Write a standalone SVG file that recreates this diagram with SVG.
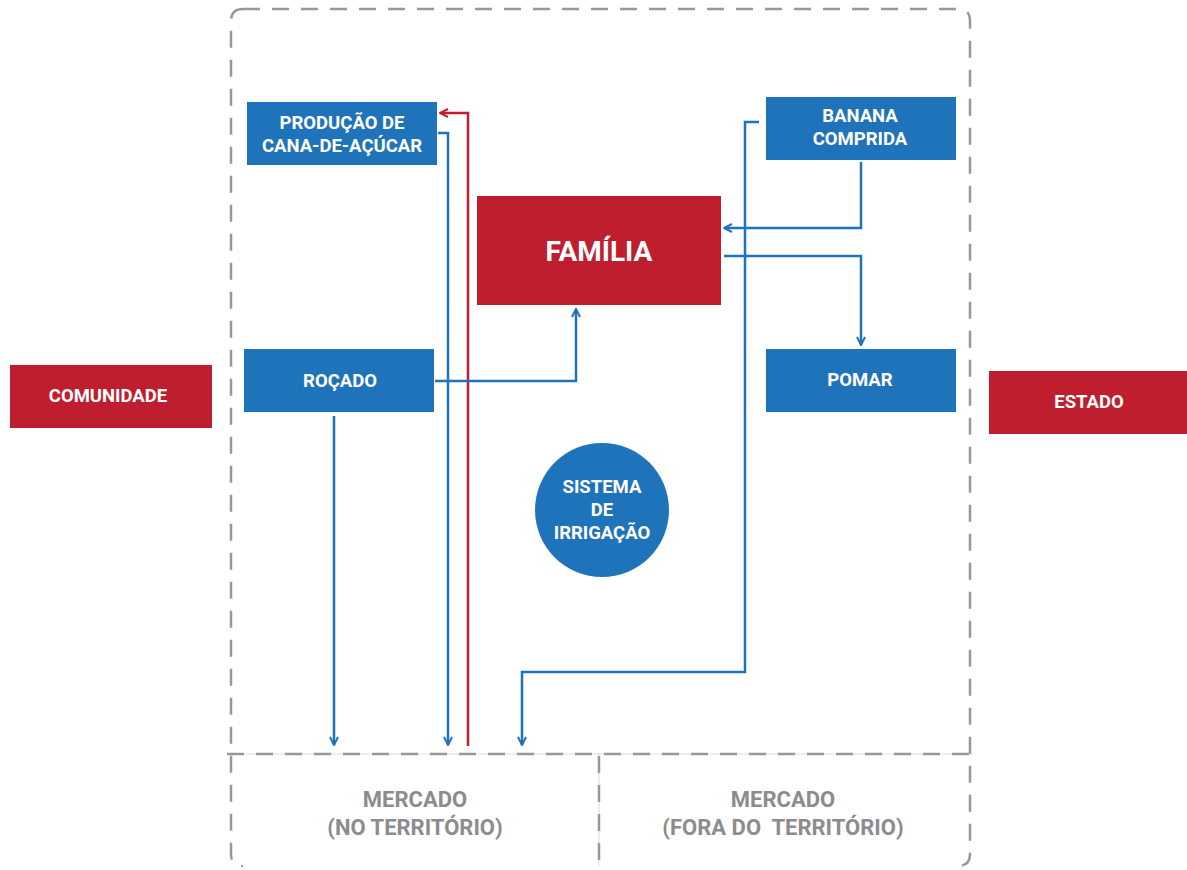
<svg xmlns="http://www.w3.org/2000/svg" width="1187" height="870" viewBox="0 0 1187 870">
<defs>
<style>
.blue{fill:#1f73bb}
.red{fill:#be1e2d}
.lbl{font-family:Roboto,"Liberation Sans",sans-serif;font-weight:700;fill:#fff;text-anchor:middle;font-size:18.5px}
.mkt{font-family:Roboto,"Liberation Sans",sans-serif;font-weight:700;fill:#8c8c8e;text-anchor:middle;font-size:22px}
.dash{fill:none;stroke:#98989a;stroke-width:2.5;stroke-dasharray:17 12}
.thin{fill:none;stroke:#dcdcdc;stroke-width:1}
.cb{fill:none;stroke:#1f73bb;stroke-width:2.5}
.cr{fill:none;stroke:#be1e2d;stroke-width:2.5}
</style>
<marker id="ab" viewBox="0 0 10 10" refX="9" refY="5" markerWidth="10" markerHeight="10" markerUnits="userSpaceOnUse" orient="auto"><path d="M1,1 L9,5 L1,9" fill="none" stroke="#1f73bb" stroke-width="2"/></marker>
<marker id="ar" viewBox="0 0 10 10" refX="9" refY="5" markerWidth="10" markerHeight="10" markerUnits="userSpaceOnUse" orient="auto"><path d="M1,1 L9,5 L1,9" fill="none" stroke="#be1e2d" stroke-width="2"/></marker>
</defs>
<rect width="1187" height="870" fill="#fff"/>
<g id="frame">
<line class="thin" x1="227" y1="754" x2="972" y2="754"/>
<line class="thin" x1="599" y1="754" x2="599" y2="866"/>
<path class="dash" d="M243,9 H958 Q970,9 970,21 V854 Q970,866 958,866 M243,9 Q231,9 231,21 V854 Q231,866 243,866"/>
<line class="dash" x1="227" y1="754" x2="972" y2="754"/>
<line class="dash" x1="599" y1="756" x2="599" y2="866"/>
</g>
<g id="connectors">
<path class="cb" d="M438,133 H448 V745" marker-end="url(#ab)"/>
<path class="cr" d="M468,746 V113 H440" marker-end="url(#ar)"/>
<path class="cb" d="M435,381 H576 V309" marker-end="url(#ab)"/>
<path class="cb" d="M334,416 V745" marker-end="url(#ab)"/>
<path class="cb" d="M759,122 H745 V672 H522 V745" marker-end="url(#ab)"/>
<path class="cb" d="M861,162 V228 H724" marker-end="url(#ab)"/>
<path class="cb" d="M724,256 H861 V345" marker-end="url(#ab)"/>
</g>
<g id="producao"><rect class="blue" x="247" y="102" width="190" height="63"/><text class="lbl" x="342" y="129">PRODUÇÃO DE</text><text class="lbl" x="342" y="152">CANA-DE-AÇÚCAR</text></g>
<g id="banana"><rect class="blue" x="766" y="97" width="190" height="63"/><text class="lbl" x="860" y="122">BANANA</text><text class="lbl" x="860" y="145">COMPRIDA</text></g>
<g id="familia"><rect class="red" x="477" y="196" width="244" height="109"/><text class="lbl" x="599" y="261" style="font-size:28px">FAMÍLIA</text></g>
<g id="rocado"><rect class="blue" x="244" y="349" width="190" height="63"/><text class="lbl" x="340" y="387">ROÇADO</text></g>
<g id="pomar"><rect class="blue" x="766" y="349" width="190" height="63"/><text class="lbl" x="860" y="386">POMAR</text></g>
<g id="comunidade"><rect class="red" x="10" y="365" width="202" height="63"/><text class="lbl" x="108" y="402">COMUNIDADE</text></g>
<g id="estado"><rect class="red" x="989" y="371" width="198" height="63"/><text class="lbl" x="1089" y="408">ESTADO</text></g>
<g id="irrigacao"><circle class="blue" cx="602" cy="510" r="67"/><text class="lbl" x="602" y="493">SISTEMA</text><text class="lbl" x="602" y="516">DE</text><text class="lbl" x="602" y="539">IRRIGAÇÃO</text></g>
<g id="mercado-no"><text class="mkt" x="415" y="807">MERCADO</text><text class="mkt" x="415" y="835">(NO TERRITÓRIO)</text></g>
<g id="mercado-fora"><text class="mkt" x="783" y="807">MERCADO</text><text class="mkt" x="783" y="835" xml:space="preserve">(FORA DO  TERRITÓRIO)</text></g>
</svg>
